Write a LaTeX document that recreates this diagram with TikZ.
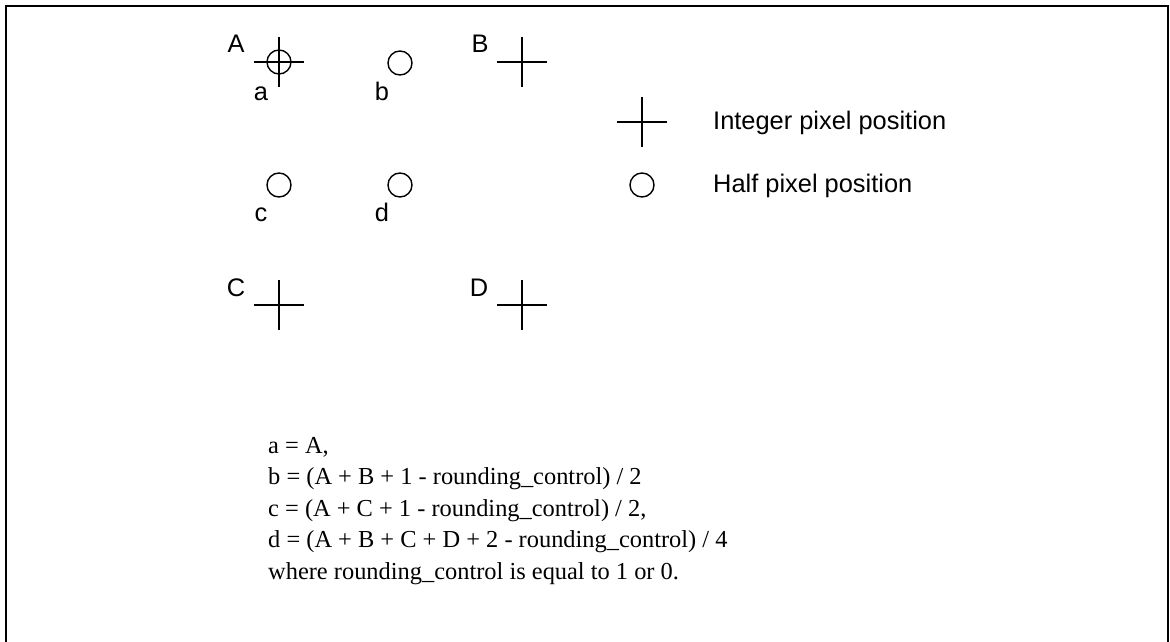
\documentclass[tikz,border=0pt]{standalone}
\usepackage{fontspec}
\setmainfont{Liberation Serif}
\newfontfamily\labelfont{Liberation Sans}
\begin{document}
\begin{tikzpicture}[x=1bp,y=-1bp,
  intcross/.pic={\draw[line width=1.8bp] (-25,0)--(25,0) (0,-25)--(0,25);},
  halfpix/.style={circle,draw,line width=1.4bp,minimum size=24bp,inner sep=0pt},
  lbl/.style={font=\labelfont\fontsize{25.5}{30}\selectfont,inner sep=0pt,anchor=base},
  leg/.style={font=\labelfont\fontsize{25.5}{30}\selectfont,inner sep=0pt,anchor=west},
  eq/.style={font=\fontsize{24.5}{30}\selectfont,inner sep=0pt,anchor=base west}]
\useasboundingbox (0,0) rectangle (1170,642);
\draw[line width=2bp] (6,650) -- (6,6) -- (1168,6) -- (1168,650);
% integer positions
\coordinate (A) at (279,62);
\coordinate (B) at (522,62);
\coordinate (C) at (279,305);
\coordinate (D) at (522,305);
\coordinate (L1) at (642,122);
\pic at (A) {intcross};
\pic at (B) {intcross};
\pic at (C) {intcross};
\pic at (D) {intcross};
\pic at (L1) {intcross};
% half positions
\node[halfpix] (a) at (279,62) {};
\node[halfpix] (b) at (400,63) {};
\node[halfpix] (c) at (279,185) {};
\node[halfpix] (d) at (400,185) {};
\node[halfpix] (L2) at (642,185) {};
% labels
\node[lbl] (tA) at (236,53) {A};
\node[lbl] (tB) at (480,53) {B};
\node[lbl] (ta) at (261,101) {a};
\node[lbl] (tb) at (382,101) {b};
\node[lbl] (tc) at (261,222) {c};
\node[lbl] (td) at (382,222) {d};
\node[lbl] (tC) at (236,297) {C};
\node[lbl] (tD) at (479,297) {D};
\node[leg] (t1) at (713,123) {Integer pixel position};
\node[leg] (t2) at (713,186) {Half pixel position};
% formulas
\node[eq] (e1) at (268,453) {a = A,};
\node[eq] (e2) at (268,484.5) {b = (A + B + 1 - rounding\_control) / 2};
\node[eq] (e3) at (268,516) {c = (A + C + 1 - rounding\_control) / 2,};
\node[eq] (e4) at (268,547.5) {d = (A + B + C + D + 2 - rounding\_control) / 4};
\node[eq] (e5) at (268,579) {where rounding\_control is equal to 1 or 0.};
\end{tikzpicture}
\end{document}
